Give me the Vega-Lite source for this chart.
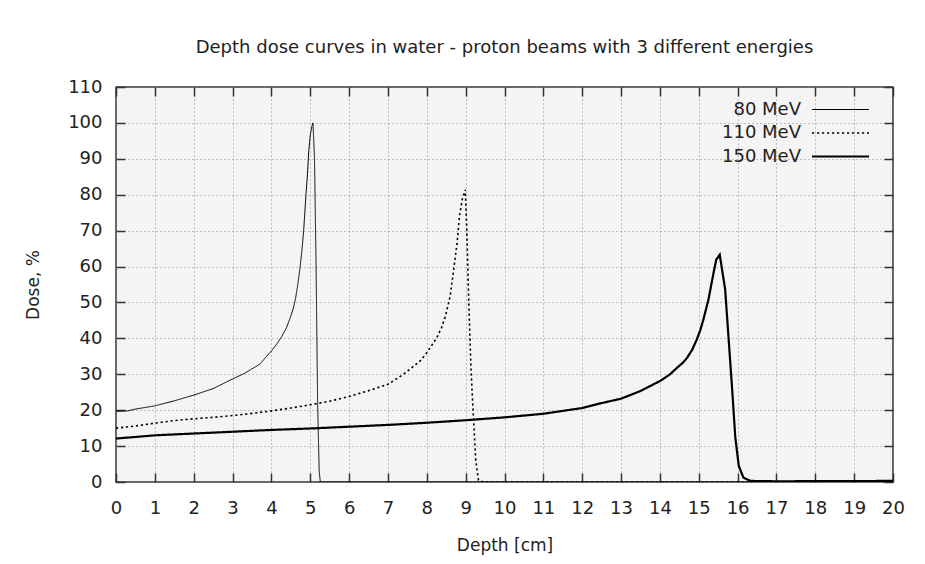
{
  "$schema": "https://vega.github.io/schema/vega-lite/v6.json",
  "width": 777,
  "height": 395,
  "autosize": {"type": "none"},
  "padding": {"left": 116, "top": 87, "right": 32, "bottom": 82},
  "background": "white",
  "title": {
    "text": "Depth dose curves in water - proton beams with 3 different energies",
    "font": "DejaVu Sans",
    "fontSize": 18,
    "fontWeight": "normal",
    "color": "#222222",
    "anchor": "middle",
    "offset": 21
  },
  "config": {
    "view": {"fill": "#f4f4f4", "stroke": "#333333", "strokeWidth": 1.5},
    "axis": {
      "domain": false,
      "ticks": true,
      "tickSize": -9,
      "tickColor": "#333333",
      "tickWidth": 1.5,
      "gridColor": "#888888",
      "gridDash": [1, 3],
      "gridWidth": 1,
      "labelFont": "DejaVu Sans",
      "labelFontSize": 18,
      "labelColor": "#222222",
      "labelOverlap": false,
      "titleFont": "DejaVu Sans",
      "titleFontSize": 17,
      "titleFontWeight": "normal",
      "titleColor": "#222222",
      "zindex": 1
    },
    "legend": {
      "orient": "none",
      "legendX": 713,
      "legendY": 12,
      "title": null,
      "symbolType": "M-2.85,0H2.85",
      "symbolStrokeColor": "black",
      "symbolSize": 400,
      "labelFont": "DejaVu Sans",
      "labelFontSize": 18,
      "labelColor": "#222222",
      "labelAlign": "right",
      "labelOffset": -51,
      "rowPadding": 3,
      "padding": 0
    }
  },
  "data": {
    "values": [
      {"energy": "80 MeV", "depth": 0, "dose": 19.7},
      {"energy": "80 MeV", "depth": 0.3, "dose": 19.8},
      {"energy": "80 MeV", "depth": 0.5, "dose": 20.3},
      {"energy": "80 MeV", "depth": 1, "dose": 21.2},
      {"energy": "80 MeV", "depth": 1.5, "dose": 22.6},
      {"energy": "80 MeV", "depth": 2, "dose": 24.2},
      {"energy": "80 MeV", "depth": 2.5, "dose": 26.0},
      {"energy": "80 MeV", "depth": 3, "dose": 28.7},
      {"energy": "80 MeV", "depth": 3.3, "dose": 30.2},
      {"energy": "80 MeV", "depth": 3.7, "dose": 32.8},
      {"energy": "80 MeV", "depth": 4, "dose": 36.5},
      {"energy": "80 MeV", "depth": 4.15, "dose": 38.6},
      {"energy": "80 MeV", "depth": 4.27, "dose": 40.6},
      {"energy": "80 MeV", "depth": 4.39, "dose": 43.0},
      {"energy": "80 MeV", "depth": 4.49, "dose": 45.9},
      {"energy": "80 MeV", "depth": 4.56, "dose": 48.2},
      {"energy": "80 MeV", "depth": 4.62, "dose": 51},
      {"energy": "80 MeV", "depth": 4.68, "dose": 55},
      {"energy": "80 MeV", "depth": 4.74, "dose": 60},
      {"energy": "80 MeV", "depth": 4.79, "dose": 65},
      {"energy": "80 MeV", "depth": 4.83, "dose": 70},
      {"energy": "80 MeV", "depth": 4.89, "dose": 80},
      {"energy": "80 MeV", "depth": 4.93, "dose": 86},
      {"energy": "80 MeV", "depth": 4.96, "dose": 92},
      {"energy": "80 MeV", "depth": 5.0, "dose": 96.5},
      {"energy": "80 MeV", "depth": 5.04, "dose": 99},
      {"energy": "80 MeV", "depth": 5.07, "dose": 100},
      {"energy": "80 MeV", "depth": 5.11, "dose": 90},
      {"energy": "80 MeV", "depth": 5.15, "dose": 60},
      {"energy": "80 MeV", "depth": 5.19, "dose": 22},
      {"energy": "80 MeV", "depth": 5.23, "dose": 3},
      {"energy": "80 MeV", "depth": 5.26, "dose": 0},
      {"energy": "80 MeV", "depth": 10, "dose": 0},
      {"energy": "80 MeV", "depth": 20, "dose": 0},
      {"energy": "110 MeV", "depth": 0, "dose": 15.0},
      {"energy": "110 MeV", "depth": 0.5, "dose": 15.6},
      {"energy": "110 MeV", "depth": 1, "dose": 16.4},
      {"energy": "110 MeV", "depth": 1.5, "dose": 17.1},
      {"energy": "110 MeV", "depth": 2, "dose": 17.6},
      {"energy": "110 MeV", "depth": 2.5, "dose": 18.0},
      {"energy": "110 MeV", "depth": 3, "dose": 18.5},
      {"energy": "110 MeV", "depth": 3.5, "dose": 19.1},
      {"energy": "110 MeV", "depth": 4, "dose": 19.8},
      {"energy": "110 MeV", "depth": 4.5, "dose": 20.6},
      {"energy": "110 MeV", "depth": 5, "dose": 21.5},
      {"energy": "110 MeV", "depth": 5.5, "dose": 22.5},
      {"energy": "110 MeV", "depth": 6, "dose": 23.8},
      {"energy": "110 MeV", "depth": 6.55, "dose": 25.6},
      {"energy": "110 MeV", "depth": 7, "dose": 27.2},
      {"energy": "110 MeV", "depth": 7.4, "dose": 30},
      {"energy": "110 MeV", "depth": 7.83, "dose": 33.7},
      {"energy": "110 MeV", "depth": 8, "dose": 36},
      {"energy": "110 MeV", "depth": 8.26, "dose": 40.2},
      {"energy": "110 MeV", "depth": 8.38, "dose": 43},
      {"energy": "110 MeV", "depth": 8.48, "dose": 46.2},
      {"energy": "110 MeV", "depth": 8.6, "dose": 51.7},
      {"energy": "110 MeV", "depth": 8.69, "dose": 59},
      {"energy": "110 MeV", "depth": 8.78, "dose": 66.6},
      {"energy": "110 MeV", "depth": 8.84, "dose": 74},
      {"energy": "110 MeV", "depth": 8.91, "dose": 78.6},
      {"energy": "110 MeV", "depth": 8.99, "dose": 81.4},
      {"energy": "110 MeV", "depth": 9.03, "dose": 70},
      {"energy": "110 MeV", "depth": 9.08, "dose": 50},
      {"energy": "110 MeV", "depth": 9.14, "dose": 31},
      {"energy": "110 MeV", "depth": 9.2, "dose": 18},
      {"energy": "110 MeV", "depth": 9.26, "dose": 6},
      {"energy": "110 MeV", "depth": 9.33, "dose": 0.5},
      {"energy": "110 MeV", "depth": 9.45, "dose": 0},
      {"energy": "110 MeV", "depth": 20, "dose": 0},
      {"energy": "150 MeV", "depth": 0, "dose": 12.1},
      {"energy": "150 MeV", "depth": 1, "dose": 13.0},
      {"energy": "150 MeV", "depth": 2, "dose": 13.5},
      {"energy": "150 MeV", "depth": 3, "dose": 14.0},
      {"energy": "150 MeV", "depth": 4, "dose": 14.5},
      {"energy": "150 MeV", "depth": 5, "dose": 14.9},
      {"energy": "150 MeV", "depth": 6, "dose": 15.4},
      {"energy": "150 MeV", "depth": 7, "dose": 15.9},
      {"energy": "150 MeV", "depth": 8, "dose": 16.5},
      {"energy": "150 MeV", "depth": 9, "dose": 17.2},
      {"energy": "150 MeV", "depth": 10, "dose": 18.0},
      {"energy": "150 MeV", "depth": 11, "dose": 19.0},
      {"energy": "150 MeV", "depth": 12, "dose": 20.6},
      {"energy": "150 MeV", "depth": 12.47, "dose": 21.9},
      {"energy": "150 MeV", "depth": 13, "dose": 23.2},
      {"energy": "150 MeV", "depth": 13.49, "dose": 25.3},
      {"energy": "150 MeV", "depth": 14, "dose": 28.1},
      {"energy": "150 MeV", "depth": 14.25, "dose": 29.9},
      {"energy": "150 MeV", "depth": 14.44, "dose": 31.8},
      {"energy": "150 MeV", "depth": 14.6, "dose": 33.3},
      {"energy": "150 MeV", "depth": 14.7, "dose": 34.6},
      {"energy": "150 MeV", "depth": 14.83, "dose": 36.8},
      {"energy": "150 MeV", "depth": 14.95, "dose": 39.7},
      {"energy": "150 MeV", "depth": 15.04, "dose": 42.3},
      {"energy": "150 MeV", "depth": 15.12, "dose": 45.3},
      {"energy": "150 MeV", "depth": 15.25, "dose": 50.8},
      {"energy": "150 MeV", "depth": 15.38, "dose": 58.2},
      {"energy": "150 MeV", "depth": 15.45, "dose": 61.9},
      {"energy": "150 MeV", "depth": 15.54, "dose": 63.3},
      {"energy": "150 MeV", "depth": 15.68, "dose": 53.6},
      {"energy": "150 MeV", "depth": 15.77, "dose": 39.7},
      {"energy": "150 MeV", "depth": 15.86, "dose": 25.8},
      {"energy": "150 MeV", "depth": 15.94, "dose": 12.5},
      {"energy": "150 MeV", "depth": 16.03, "dose": 4.5},
      {"energy": "150 MeV", "depth": 16.15, "dose": 1.2},
      {"energy": "150 MeV", "depth": 16.33, "dose": 0.3},
      {"energy": "150 MeV", "depth": 17, "dose": 0.2},
      {"energy": "150 MeV", "depth": 20, "dose": 0.3}
    ]
  },
  "resolve": {"axis": {"x": "independent", "y": "independent"}},
  "layer": [
    {
      "mark": {"type": "line", "color": "black", "clip": true},
      "encoding": {
        "x": {
          "field": "depth", "type": "quantitative",
          "scale": {"domain": [0, 20], "nice": false},
          "axis": {"orient": "bottom", "title": "Depth [cm]", "grid": true, "values": [0,1,2,3,4,5,6,7,8,9,10,11,12,13,14,15,16,17,18,19,20], "labelPadding": 26, "titlePadding": 20, "labelFlush": false}
        },
        "y": {
          "field": "dose", "type": "quantitative",
          "scale": {"domain": [0, 110], "nice": false},
          "axis": {"orient": "left", "title": "Dose, %", "grid": true, "values": [0,10,20,30,40,50,60,70,80,90,100,110], "labelPadding": 23, "titlePadding": 25, "labelFlush": false}
        },
        "strokeDash": {
          "field": "energy", "type": "nominal",
          "scale": {"domain": ["80 MeV", "110 MeV", "150 MeV"], "range": [[1, 0], [2.2, 2.8], [1, 0]]}
        },
        "strokeWidth": {
          "field": "energy", "type": "nominal",
          "scale": {"domain": ["80 MeV", "110 MeV", "150 MeV"], "range": [1, 2.2, 2.6]}
        }
      }
    },
    {
      "mark": {"type": "point", "opacity": 0},
      "encoding": {
        "x": {
          "field": "depth", "type": "quantitative",
          "axis": {"orient": "top", "title": null, "labels": false, "grid": false, "values": [0,1,2,3,4,5,6,7,8,9,10,11,12,13,14,15,16,17,18,19,20]}
        },
        "y": {
          "field": "dose", "type": "quantitative",
          "axis": {"orient": "right", "title": null, "labels": false, "grid": false, "values": [0,10,20,30,40,50,60,70,80,90,100,110]}
        }
      }
    }
  ]
}
